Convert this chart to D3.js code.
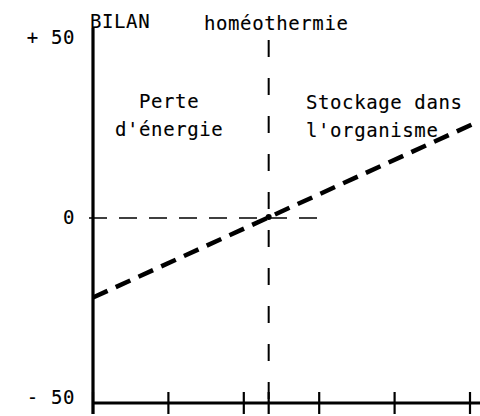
<!DOCTYPE html>
<html>
<head>
<meta charset="utf-8">
<script src="https://cdn.jsdelivr.net/npm/d3@7"></script>
<style>
  html, body { margin: 0; padding: 0; background: #fff; }
  svg text { font-family: "DejaVu Sans Mono", monospace; font-size: 19px; letter-spacing: 0.6px; fill: #000; stroke: #000; stroke-width: 0.12px; }
</style>
</head>
<body>
<svg id="chart"></svg>
<script>
const width = 480,
  height = 416

// axis ticks
const xTicks = [0, 1, 2, 3, 4, 5]
const yTicks = [50, 0, -50]
const yTickLabels = ['+ 50', '0', '- 50']

// bilan line (x in axis units, y in bilan units)
const bilanX = [0, 5.05]
const bilanY = [-21.5, 25.5]

// homeothermy point
const homeoX = 2.33
const zeroLineEnd = 3

let x = d3.scaleLinear().domain([0, 5]).range([93, 470]),
  y = d3.scaleLinear().domain([-50, 50]).range([403, 33]),
  // typed labels sit a little inside the ends of the axis
  yLabel = d3.scaleLinear().domain([-50, 50]).range([398, 38])

let svg = d3.select('#chart')
  .attr('width', width)
  .attr('height', height)
  .attr('viewBox', `0 0 ${width} ${height}`)

// zero reference, dashed thin
svg.append('line')
  .attr('x1', x(0) - 8)
  .attr('x2', x(zeroLineEnd))
  .attr('y1', y(0))
  .attr('y2', y(0))
  .attr('stroke', '#000')
  .attr('stroke-width', 1.6)
  .attr('stroke-dasharray', '18,12')
  .attr('stroke-dashoffset', -4)

// homeothermie vertical dashed
svg.append('line')
  .attr('x1', x(homeoX))
  .attr('x2', x(homeoX))
  .attr('y1', 40)
  .attr('y2', y(-50))
  .attr('stroke', '#000')
  .attr('stroke-width', 2)
  .attr('stroke-dasharray', '17,21')

// axes
svg.append('line')
  .attr('x1', x(0))
  .attr('x2', x(0))
  .attr('y1', 28)
  .attr('y2', y(-50) + 11)
  .attr('stroke', '#000')
  .attr('stroke-width', 3.2)

svg.append('line')
  .attr('x1', x(0))
  .attr('x2', width)
  .attr('y1', y(-50))
  .attr('y2', y(-50))
  .attr('stroke', '#000')
  .attr('stroke-width', 3)

svg.selectAll('line.xtick')
  .data(xTicks.concat([homeoX]))
  .enter()
    .append('line')
    .attr('class', 'xtick')
    .attr('x1', d => x(d))
    .attr('x2', d => x(d))
    .attr('y1', y(-50) - 11)
    .attr('y2', y(-50) + 11)
    .attr('stroke', '#000')
    .attr('stroke-width', 2.2)

svg.selectAll('text.ytick')
  .data(yTicks)
  .enter()
    .append('text')
    .attr('class', 'ytick')
    .attr('x', 75)
    .attr('y', d => yLabel(d))
    .attr('text-anchor', 'end')
    .attr('dominant-baseline', 'middle')
    .text((d, i) => yTickLabels[i])

// bilan line
let line = d3.line()
  .x(d => x(d[0]))
  .y(d => y(d[1]))

svg.append('path')
  .attr('d', line(d3.zip(bilanX, bilanY)))
  .attr('fill', 'none')
  .attr('stroke', '#000')
  .attr('stroke-width', 4.5)
  .attr('stroke-dasharray', '16,9')

svg.append('circle')
  .attr('cx', x(homeoX))
  .attr('cy', y(0) - 1)
  .attr('r', 3)
  .attr('fill', '#000')

// labels
let labels = [
  { t: 'BILAN', x: 90, y: 28 },
  { t: 'homéothermie', x: 204, y: 30 },
  { t: 'Perte', x: 139, y: 108 },
  { t: "d'énergie", x: 115, y: 136 },
  { t: 'Stockage dans', x: 306, y: 109 },
  { t: "l'organisme", x: 306, y: 137 }
]

svg.selectAll('text.label')
  .data(labels)
  .enter()
    .append('text')
    .attr('class', 'label')
    .attr('x', d => d.x)
    .attr('y', d => d.y)
    .text(d => d.t)
</script>
</body>
</html>
